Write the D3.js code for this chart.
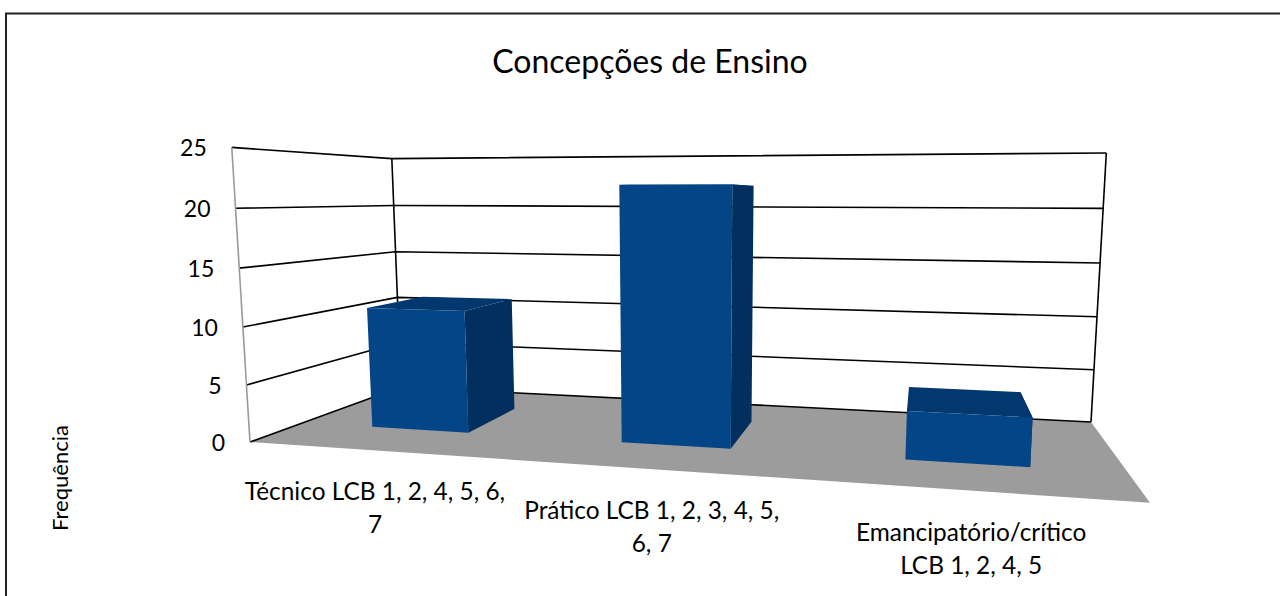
<!DOCTYPE html>
<html lang="en">
<head>
    <meta charset="UTF-8">
    <title>Concepções de Ensino</title>
    <script src="https://d3js.org/d3.v7.min.js"></script>
    <style>
        html, body { margin: 0; padding: 0; background: #fff; }
        svg { display: block; }
        text { font-family: Lato, "Open Sans", sans-serif; fill: #000; }
        .frame { fill: none; stroke: #222; stroke-width: 2px; }
        .grid { fill: none; stroke: #000; stroke-width: 1.6px; }
    </style>
</head>
<body>
    <div id="chart"></div>
    <script>
        const categories = ["Técnico", "Prático", "Emancipatório/crítico"];
        const categoryLines = [
            ["Técnico LCB 1, 2, 4, 5, 6,", "7"],
            ["Prático LCB 1, 2, 3, 4, 5,", "6, 7"],
            ["Emancipatório/crítico", "LCB 1, 2, 4, 5"]
        ];
        const values = [11, 22, 4];
        const yTicks = [0, 5, 10, 15, 20, 25];

        const width = 1280;
        const height = 596;

        // floor corners on screen: front-left, front-right, back-right, back-left
        const floorCorners = [[250, 442], [1150, 502.7], [1091, 422], [401, 387]];
        // what one full axis height adds to the projective x, y and t
        const upVector = [-27.5, -300.5, -0.04];

        function makeProjection(c, up) {
            const [[x0, y0], [x1, y1], [x2, y2], [x3, y3]] = c;
            const sx = x0 - x1 + x2 - x3, sy = y0 - y1 + y2 - y3;
            const dx1 = x1 - x2, dx2 = x3 - x2, dy1 = y1 - y2, dy2 = y3 - y2;
            const det = dx1 * dy2 - dx2 * dy1;
            const g = (sx * dy2 - dx2 * sy) / det;
            const h = (dx1 * sy - sx * dy1) / det;
            return (u, v, w) => {
                const t = 1 + g * u + h * v + up[2] * w;
                return [
                    ((x1 - x0 + g * x1) * u + (x3 - x0 + h * x3) * v + x0 + up[0] * w) / t,
                    ((y1 - y0 + g * y1) * u + (y3 - y0 + h * y3) * v + y0 + up[1] * w) / t
                ];
            };
        }

        const projection = makeProjection(floorCorners, upVector);

        const yScale = d3.scaleLinear().domain([0, 25]).range([0, 1]);
        const xScale = d3.scaleBand().domain(categories).range([0, 1]).paddingInner(0.6).paddingOuter(0.3);
        const zScale = d3.scaleBand().domain(["Frequência"]).range([0, 1]).paddingInner(0).paddingOuter(0.735);

        const project = (u, v, value) => projection(u, v, yScale(value));

        const line = d3.line();
        const poly = pts => line(pts) + "Z";

        const svg = d3.select("#chart").append("svg")
            .attr("width", width)
            .attr("height", height);

        svg.append("path").attr("class", "frame")
            .attr("d", `M6,${height + 2}V13.5H${width + 2}`);

        // floor
        svg.append("path")
            .attr("fill", "#9c9c9c")
            .attr("d", poly(floorCorners));

        // gridlines on left and back wall
        yTicks.forEach(t => {
            svg.append("path").attr("class", "grid")
                .attr("d", line([project(0, 0, t), project(0, 1, t), project(1, 1, t)]));
        });

        svg.append("path").attr("class", "grid")
            .attr("d", line([project(0, 1, 0), project(0, 1, 25)]));
        svg.append("path").attr("class", "grid")
            .attr("d", line([project(1, 1, 0), project(1, 1, 25)]));
        svg.append("path")
            .attr("fill", "none")
            .attr("stroke", "#9a9a9a")
            .attr("stroke-width", 1.6)
            .attr("d", line([project(0, 0, 0), project(0, 0, 25)]));

        // bars
        const z0 = zScale("Frequência"), z1 = z0 + zScale.bandwidth();
        categories.forEach((c, i) => {
            const u0 = xScale(c), u1 = u0 + xScale.bandwidth(), v = values[i];
            svg.append("path").attr("fill", "#022f5e")
                .attr("d", poly([project(u1, z0, 0), project(u1, z1, 0), project(u1, z1, v), project(u1, z0, v)]));
            svg.append("path").attr("fill", "#02386e")
                .attr("d", poly([project(u0, z0, v), project(u1, z0, v), project(u1, z1, v), project(u0, z1, v)]));
            svg.append("path").attr("fill", "#034587")
                .attr("d", poly([project(u0, z0, 0), project(u1, z0, 0), project(u1, z0, v), project(u0, z0, v)]));
        });

        // tick labels
        svg.append("g").selectAll("text")
            .data(yTicks)
            .join("text")
            .attr("x", d => project(0, 0, d)[0] - 25)
            .attr("y", d => project(0, 0, d)[1] + 9)
            .attr("text-anchor", "end")
            .attr("font-size", 23)
            .text(d => d);

        // category labels
        categories.forEach((c, i) => {
            const p = project(xScale(c) + xScale.bandwidth() / 2, 0, 0);
            categoryLines[i].forEach((s, j) => {
                svg.append("text")
                    .attr("x", p[0])
                    .attr("y", p[1] + 50 + j * 33)
                    .attr("text-anchor", "middle")
                    .attr("font-size", 24.4)
                    .text(s);
            });
        });

        svg.append("text")
            .attr("x", 650).attr("y", 73)
            .attr("text-anchor", "middle")
            .attr("font-size", 32)
            .text("Concepções de Ensino");

        svg.append("text")
            .attr("transform", "translate(68,478) rotate(-90)")
            .attr("text-anchor", "middle")
            .attr("font-size", 22)
            .text("Frequência");
    </script>
</body>
</html>
